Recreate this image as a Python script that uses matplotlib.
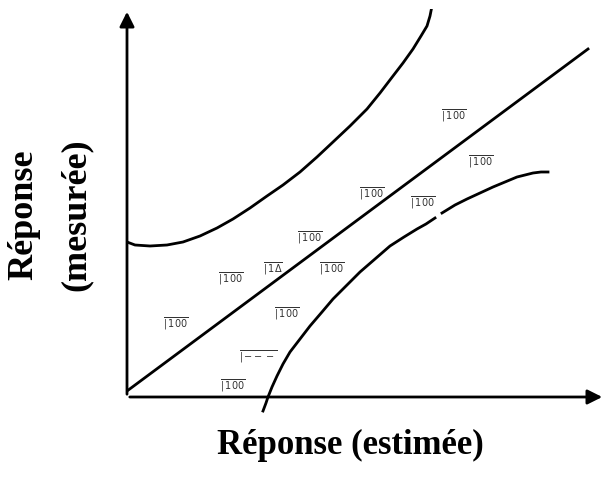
import matplotlib.pyplot as plt

# coordinates (units: px from origin of the axes)
fit_x = [0, 461]
fit_y = [6, 348]

upper_x = [0, 8, 23, 40, 56, 73, 90, 106, 123, 140, 156, 173, 190, 206, 223, 240,
           253, 266, 276, 286, 294, 300, 303, 305]
upper_y = [155, 152, 151, 152, 155, 161, 169, 178, 189, 201, 212, 225, 240, 255, 271, 288,
           304, 321, 334, 348, 361, 371, 381, 391]

lower1_x = [136, 139, 141, 145, 150, 156, 163, 173, 183, 195, 206, 220, 233, 248, 263,
            277, 290, 299, 308]
lower1_y = [-14, -6, 0, 10, 21, 33, 45, 58, 71, 85, 98, 112, 125, 138, 151,
            160, 168, 173, 179]
lower2_x = [315, 328, 340, 353, 366, 378, 390, 398, 406, 414, 421]
lower2_y = [184, 192, 198, 204, 210, 215, 220, 222, 224, 225, 225]

pt_x = [49, 104, 146, 205, 183, 160, 131, 106, 245, 296, 327, 354]
pt_y = [74, 119, 129, 129, 160, 84, 41, 12, 204, 195, 282, 236]
pt_lab = ["100", "100", "1Δ", "100", "100", "100", "---", "100", "100", "100", "100", "100"]

fig = plt.figure(figsize=(6.06, 4.85), dpi=100)
ax = fig.add_axes([127 / 606, 87 / 485, 478 / 606, 388 / 485])
ax.set_xlim(0, 478)
ax.set_ylim(0, 388)
ax.axis("off")

ax.annotate("", xy=(478, 0), xytext=(0, 0),
            arrowprops=dict(arrowstyle="-|>", color="black", lw=2, mutation_scale=22))
ax.annotate("", xy=(0, 388), xytext=(0, 0),
            arrowprops=dict(arrowstyle="-|>", color="black", lw=2, mutation_scale=22))

ax.plot(fit_x, fit_y, color="black", lw=2)
ax.plot(upper_x, upper_y, color="black", lw=2)
ax.plot(lower1_x, lower1_y, color="black", lw=2, clip_on=False)
ax.plot(lower2_x, lower2_y, color="black", lw=2)

for x, y, lab in zip(pt_x, pt_y, pt_lab):
    ax.text(x, y, r"$\overline{\vert\,\mathrm{" + lab + "}}$", fontsize=7,
            ha="center", va="center", color="#333333")

fig.text(350 / 606, 1 - 445 / 485, "Réponse (estimée)", family="Liberation Serif",
         fontweight="bold", fontsize=25, ha="center", va="center")
fig.text(24 / 606, 1 - 215 / 485, "Réponse", family="Liberation Serif",
         fontweight="bold", fontsize=26, ha="center", va="center", rotation=90)
fig.text(76 / 606, 1 - 215 / 485, "(mesurée)", family="Liberation Serif",
         fontweight="bold", fontsize=26, ha="center", va="center", rotation=90)

fig.savefig("out.png", dpi=100)
